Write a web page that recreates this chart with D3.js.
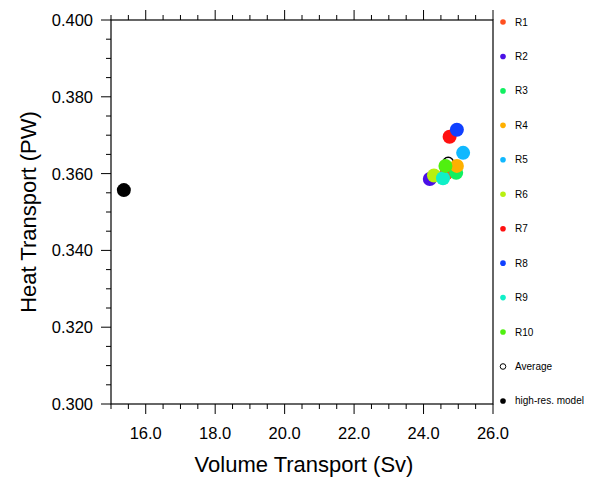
<!DOCTYPE html>
<html><head><meta charset="utf-8">
<script src="https://cdn.jsdelivr.net/npm/d3@7"></script>
<style>body{margin:0;background:#fff}svg{font-family:"Liberation Sans",Arial,Helvetica,sans-serif}</style>
</head><body>
<svg id="c" width="600" height="486"></svg>
<script>
const names = ["R1","R2","R3","R4","R5","R6","R7","R8","R9","R10"];
const volume = [24.65,24.18,24.94,24.96,25.14,24.30,24.75,24.96,24.56,24.63];
const heat   = [0.3600,0.3586,0.3602,0.3620,0.3654,0.3595,0.3696,0.3714,0.3588,0.3620];
const colors = ["#ff4f1f","#4a10e6","#10f060","#ffb000","#10b8ff","#b8f010","#ff1010","#1040ff","#10f0c8","#50f010"];
const avgVolume = 24.71, avgHeat = 0.3628;
const hiresVolume = 15.37, hiresHeat = 0.3557;
const xTicks = [16,18,20,22,24,26];
const yTicks = [0.30,0.32,0.34,0.36,0.38,0.40];

const svg = d3.select("#c");
const L=111, R=493, T=20, B=404;
const x = d3.scaleLinear().domain([15,26]).range([L,R]);
const y = d3.scaleLinear().domain([0.30,0.40]).range([B,T]);

svg.append("rect").attr("x",L).attr("y",T).attr("width",R-L).attr("height",B-T)
  .attr("fill","none").attr("stroke","#000").attr("stroke-width",1.2);

const xMinor = d3.range(15,26.001,0.5);
const yMinor = d3.range(0.30,0.4001,0.005);
const g = svg.append("g").attr("stroke","#000").attr("stroke-width",1);
xMinor.forEach(v=>{ const maj = xTicks.some(t=>Math.abs(t-v)<1e-6);
  g.append("line").attr("x1",x(v)).attr("x2",x(v)).attr("y1",B).attr("y2",B+(maj?10:5));
  g.append("line").attr("x1",x(v)).attr("x2",x(v)).attr("y1",T).attr("y2",T-(maj?10:5));
});
yMinor.forEach(v=>{ const maj = yTicks.some(t=>Math.abs(t-v)<1e-6);
  g.append("line").attr("y1",y(v)).attr("y2",y(v)).attr("x1",L).attr("x2",L-(maj?10:5));
});
xTicks.forEach(v=> svg.append("text").attr("x",x(v)).attr("y",439).attr("text-anchor","middle")
  .attr("font-size",16.5).text(v.toFixed(1)));
yTicks.forEach(v=> svg.append("text").attr("x",93).attr("y",y(v)+6).attr("text-anchor","end")
  .attr("font-size",16.5).text(v.toFixed(3)));
svg.append("text").attr("x",304).attr("y",472).attr("text-anchor","middle").attr("font-size",22)
  .text("Volume Transport (Sv)");
svg.append("text").attr("transform","translate(36,212) rotate(-90)").attr("text-anchor","middle")
  .attr("font-size",22).text("Heat Transport (PW)");

svg.append("circle").attr("cx",x(avgVolume)).attr("cy",y(avgHeat)).attr("r",5.5)
  .attr("fill","none").attr("stroke","#000").attr("stroke-width",1.5);
names.forEach((n,i)=> svg.append("circle").attr("cx",x(volume[i])).attr("cy",y(heat[i])).attr("r",7)
  .attr("fill",colors[i]));
svg.append("circle").attr("cx",x(hiresVolume)).attr("cy",y(hiresHeat)).attr("r",7).attr("fill","#000");

const legNames = names.concat(["Average","high-res. model"]);
legNames.forEach((n,i)=>{
  const yy = 22 + i*34.45;
  const c = svg.append("circle").attr("cx",503).attr("cy",yy).attr("r",2.8);
  if(i<10) c.attr("fill",colors[i]);
  else if(i===10) c.attr("fill","none").attr("stroke","#000").attr("stroke-width",1);
  else c.attr("fill","#000");
  svg.append("text").attr("x",515).attr("y",yy+3.5).attr("font-size",10).text(n);
});
</script>
</body></html>
